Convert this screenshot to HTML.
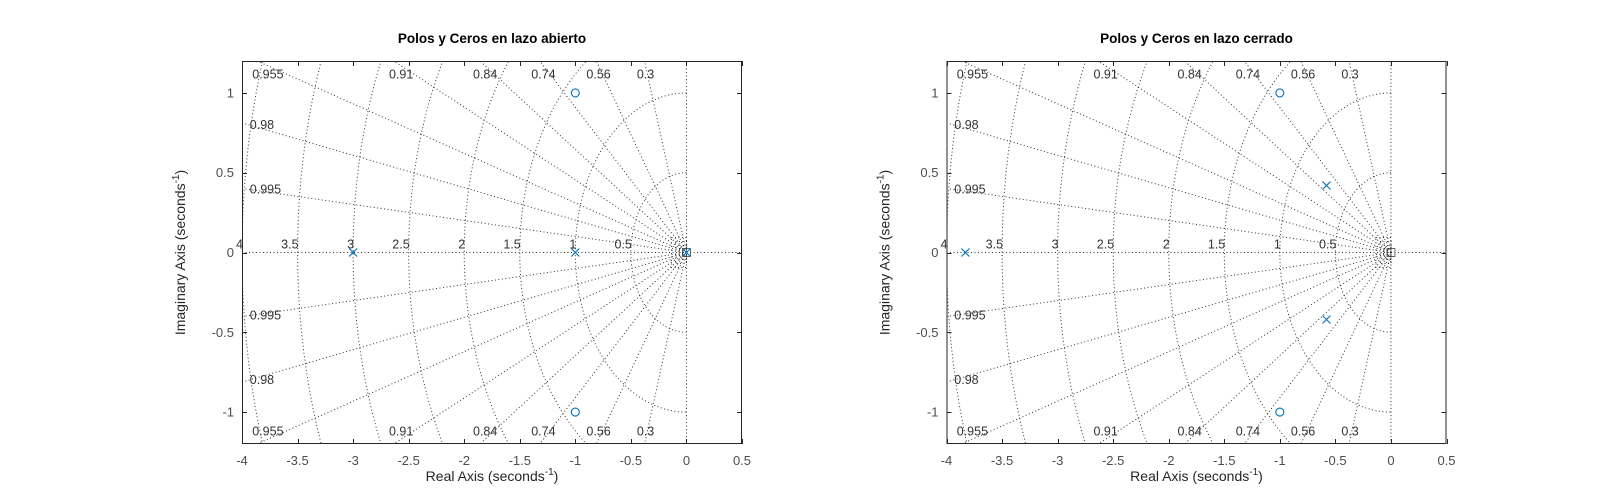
<!DOCTYPE html>
<html><head><meta charset="utf-8">
<style>
html,body{margin:0;padding:0;background:#fff;width:1600px;height:500px;overflow:hidden;}
svg{display:block;font-family:"Liberation Sans",Arial,sans-serif;}
</style></head>
<body>
<svg id="fig" width="1600" height="500" viewBox="0 0 1600 500" xmlns="http://www.w3.org/2000/svg"></svg>
<script>
// ---- data ----
const xTicks = [-4,-3.5,-3,-2.5,-2,-1.5,-1,-0.5,0,0.5];
const yTicks = [-1,-0.5,0,0.5,1];
const zetaLabels = ["0.3","0.56","0.74","0.84","0.91","0.955","0.98","0.995"];
const zetaValues = [0.3,0.56,0.74,0.84,0.91,0.955,0.98,0.995];
const wnLabels = ["0.5","1","1.5","2","2.5","3","3.5","4"];
const wnValues = [0.5,1,1.5,2,2.5,3,3.5,4];
const openPolesRe = [-3,-1,0];
const openPolesIm = [0,0,0];
const openZerosRe = [-1,-1];
const openZerosIm = [1,-1];
const closedPolesRe = [-3.83,-0.58,-0.58];
const closedPolesIm = [0,0.42,-0.42];
const closedZerosRe = [-1,-1];
const closedZerosIm = [1,-1];

const NS="http://www.w3.org/2000/svg";
const svg=document.getElementById('fig');
function mk(tag,attrs,parent){const e=document.createElementNS(NS,tag);for(const k in attrs)e.setAttribute(k,attrs[k]);(parent||svg).appendChild(e);return e;}

function drawPanel(idx,left,title,pRe,pIm,zRe,zIm){
  const top=61,bottom=444,right=left+500;
  const xmin=-4,xmax=0.5,ymin=-1.2,ymax=1.2;
  const X=v=>left+(v-xmin)/(xmax-xmin)*(right-left);
  const Y=v=>bottom-(v-ymin)/(ymax-ymin)*(bottom-top);
  const g=mk('g',{});
  
  
  const clipId='clip'+idx;
  const cp=mk('clipPath',{id:clipId},g);
  mk('rect',{x:left,y:top,width:right-left,height:bottom-top},cp);
  const grid=mk('g',{'clip-path':'url(#'+clipId+')',stroke:'#333','stroke-width':1,'stroke-dasharray':'1 2.5',fill:'none'},g);
  
  
  mk('line',{x1:X(xmin),y1:Y(0),x2:X(xmax),y2:Y(0)},grid);
  mk('line',{x1:X(0),y1:Y(ymin),x2:X(0),y2:Y(ymax)},grid);
  zetaValues.forEach(z=>{
    const s=Math.sqrt(1-z*z);
    [1,-1].forEach(sg=>{
      const r=mk('line',{x1:X(0),y1:Y(0),x2:X(-z*10),y2:Y(sg*s*10)},grid);
      
      
    });
  });
  wnValues.forEach(w=>{
    let d='';
    for(let i=0;i<=90;i++){const a=Math.PI/2+Math.PI*i/90;d+=(i?'L':'M')+X(w*Math.cos(a)).toFixed(2)+' '+Y(w*Math.sin(a)).toFixed(2);}
    const p=mk('path',{d:d},grid);
    
    
  });
  // boxy artifacts near origin
  [7,11,15].forEach(h=>{
    mk('rect',{x:X(0)-h,y:Y(0)-h,width:h,height:2*h},grid);
  });
  const lab=mk('g',{fill:'#333','font-size':'12.5px'},g);
  wnValues.forEach((w,i)=>{
    const t=mk('text',{x:X(-w)+1,y:Y(0)-4,'text-anchor':'end'},lab);
    t.textContent=wnLabels[i];
    
    
  });
  zetaValues.forEach((z,i)=>{
    const s=Math.sqrt(1-z*z);
    const ySide=(3.93)*s/z;
    [1,-1].forEach(sg=>{
      let t;
      if(ySide<1.17){
        t=mk('text',{x:X(-3.93),y:Y(sg*ySide)+4,'text-anchor':'start'},lab);
      }else{
        const xr=-1.17*z/s;
        t=mk('text',{x:X(xr),y:Y(sg*1.117)+4.5,'text-anchor':'middle'},lab);
      }
      t.textContent=zetaLabels[i];
      
      
    });
  });
  mk('rect',{x:X(0)-4,y:Y(0)-4,width:8,height:8,fill:'none',stroke:'#444','stroke-width':0.8},g);
  const fr=mk('rect',{x:left+0.5,y:top+0.5,width:right-left-1,height:bottom-top-1,fill:'none',stroke:'#262626','stroke-width':1},g);
  
  
  const tk=mk('g',{stroke:'#262626','stroke-width':1},g);
  const tl=mk('g',{fill:'#4d4d4d','font-size':'13px'},g);
  xTicks.forEach(v=>{
    const x=Math.round(X(v))+0.5;
    mk('line',{x1:x,y1:bottom,x2:x,y2:bottom-5},tk);
    mk('line',{x1:x,y1:top,x2:x,y2:top+5},tk);
    const t=mk('text',{x:X(v),y:bottom+21,'text-anchor':'middle'},tl);
    t.textContent=String(v);
    
    
  });
  yTicks.forEach(v=>{
    const y=Math.round(Y(v))+0.5;
    mk('line',{x1:left,y1:y,x2:left+5,y2:y},tk);
    mk('line',{x1:right,y1:y,x2:right-5,y2:y},tk);
    const t=mk('text',{x:left-8,y:Y(v)+4.5,'text-anchor':'end'},tl);
    t.textContent=String(v);
    
    
  });
  const mg=mk('g',{stroke:'#0072BD','stroke-width':1.1,fill:'none'},g);
  pRe.forEach((re,i)=>{
    const cx=X(re),cy=Y(pIm[i]);
    const p=mk('path',{d:`M${cx-4} ${cy-4}L${cx+4} ${cy+4}M${cx-4} ${cy+4}L${cx+4} ${cy-4}`},mg);
    
    
  });
  zRe.forEach((re,i)=>{
    const c=mk('circle',{cx:X(re),cy:Y(zIm[i]),r:4},mg);
    
    
  });
  const cx=(left+right)/2;
  const tt=mk('text',{x:cx,y:43,'text-anchor':'middle','font-size':'13.5px','font-weight':'bold',fill:'#000'},g);
  tt.textContent=title;
  
  
  const xl=mk('text',{x:cx,y:481,'text-anchor':'middle','font-size':'14px',fill:'#262626'},g);
  xl.innerHTML='Real Axis (seconds<tspan dy="-6" font-size="10px">-1</tspan><tspan dy="6">)</tspan>';
  
  
  const yl=mk('text',{x:0,y:0,'text-anchor':'middle','font-size':'14px',fill:'#262626',transform:`translate(${left-57},${(top+bottom)/2}) rotate(-90)`},g);
  yl.innerHTML='Imaginary Axis (seconds<tspan dy="-6" font-size="10px">-1</tspan><tspan dy="6">)</tspan>';
  
  
}
drawPanel(0,242,'Polos y Ceros en lazo abierto',openPolesRe,openPolesIm,openZerosRe,openZerosIm);
drawPanel(1,946.5,'Polos y Ceros en lazo cerrado',closedPolesRe,closedPolesIm,closedZerosRe,closedZerosIm);
</script>
</body></html>
